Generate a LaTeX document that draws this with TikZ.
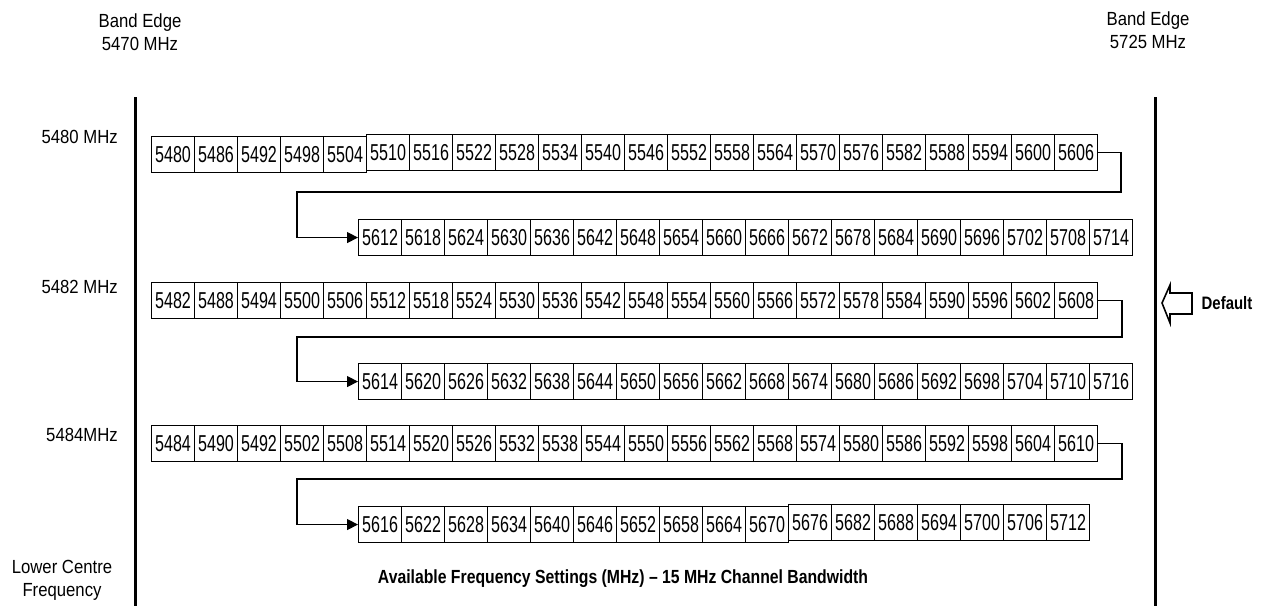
\documentclass[tikz,border=0pt]{standalone}
\usepackage{fontspec}
\usetikzlibrary{arrows.meta}
\newfontfamily\cellfont[FakeStretch=0.7]{Liberation Sans}
\newfontfamily\labfont[FakeStretch=0.88]{Liberation Sans}
\newfontfamily\capfont[FakeStretch=0.83]{Liberation Sans}
\newcommand\cellrow[5]{%
  \foreach \v [count=\i from #2] in {#5} {%
    \node[cell] (#1c\i) at ({#3+43*(\i-1)},#4) {\v};}}
\begin{document}
\begin{tikzpicture}[x=1pt,y=-1pt,
  cell/.style={draw,line width=1.1pt,anchor=north west,minimum width=43pt,minimum height=36pt,inner sep=0pt,
    font=\cellfont\fontsize{23}{23}\selectfont},
  lab/.style={font=\labfont\fontsize{19}{23}\selectfont,align=center,inner sep=0pt},
  capt/.style={font=\capfont\fontsize{19}{22}\selectfont\bfseries,inner sep=0pt},
  conn/.style={line width=1.1pt,-{Triangle[length=11pt,width=11pt]}},
  edge/.style={line width=3pt}]
\useasboundingbox (0,0) rectangle (1266,606);
% band edges
\coordinate (ltop) at (135,97); \coordinate (lbot) at (135,606);
\coordinate (rtop) at (1155,97); \coordinate (rbot) at (1155,606);
\draw[edge] (ltop) -- (lbot);
\draw[edge] (rtop) -- (rbot);
\node[lab] (be1) at (140,32) {Band Edge\\5470 MHz};
\node[lab] (be2) at (1148,30) {Band Edge\\5725 MHz};
% row labels
\node[lab,anchor=east] (l1) at (118,137) {5480 MHz};
\node[lab,anchor=east] (l2) at (118,287) {5482 MHz};
\node[lab,anchor=east] (l3) at (118,435) {5484MHz};
\node[lab] (lcf) at (62,580) {Lower Centre\\Frequency};
% rows
\cellrow{r1}{1}{151}{136}{5480,5486,5492,5498,5504}
\cellrow{r1}{6}{151}{134}{5510,5516,5522,5528,5534,5540,5546,5552,5558,5564,5570,5576,5582,5588,5594,5600,5606}
\cellrow{r2}{1}{358}{219}{5612,5618,5624,5630,5636,5642,5648,5654,5660,5666,5672,5678,5684,5690,5696,5702,5708,5714}
\cellrow{r3}{1}{151}{282}{5482,5488,5494,5500,5506,5512,5518,5524,5530,5536,5542,5548,5554,5560,5566,5572,5578,5584,5590,5596,5602,5608}
\cellrow{r4}{1}{358}{363}{5614,5620,5626,5632,5638,5644,5650,5656,5662,5668,5674,5680,5686,5692,5698,5704,5710,5716}
\cellrow{r5}{1}{151}{425}{5484,5490,5492,5502,5508,5514,5520,5526,5532,5538,5544,5550,5556,5562,5568,5574,5580,5586,5592,5598,5604,5610}
\cellrow{r6}{1}{358}{506}{5616,5622,5628,5634,5640,5646,5652,5658,5664,5670}
\cellrow{r6}{11}{358}{504}{5676,5682,5688,5694,5700,5706,5712}
% connectors
\coordinate (a1) at (1121,192); \coordinate (b1) at (297,192);
\coordinate (a2) at (1122,337); \coordinate (b2) at (297,337);
\coordinate (a3) at (1122,479); \coordinate (b3) at (297,479);
\draw[conn] (r1c22.east) -| (a1) -- (b1) |- (r2c1.west);
\draw[conn] (r3c22.east) -| (a2) -- (b2) |- (r4c1.west);
\draw[conn] (r5c22.east) -| (a3) -- (b3) |- (r6c1.west);
% caption
\node[capt] (cap) at (623,579) {Available Frequency Settings (MHz) – 15 MHz Channel Bandwidth};
% default marker
\draw[line width=1.6pt,line join=miter] (1162,303) -- (1170,285) -- (1170,293) -- (1192,293) -- (1192,314) -- (1170,314) -- (1170,323) -- cycle;
\node[capt,font=\capfont\fontsize{18}{20}\selectfont\bfseries] (def) at (1227,303) {Default};
\end{tikzpicture}
\end{document}
